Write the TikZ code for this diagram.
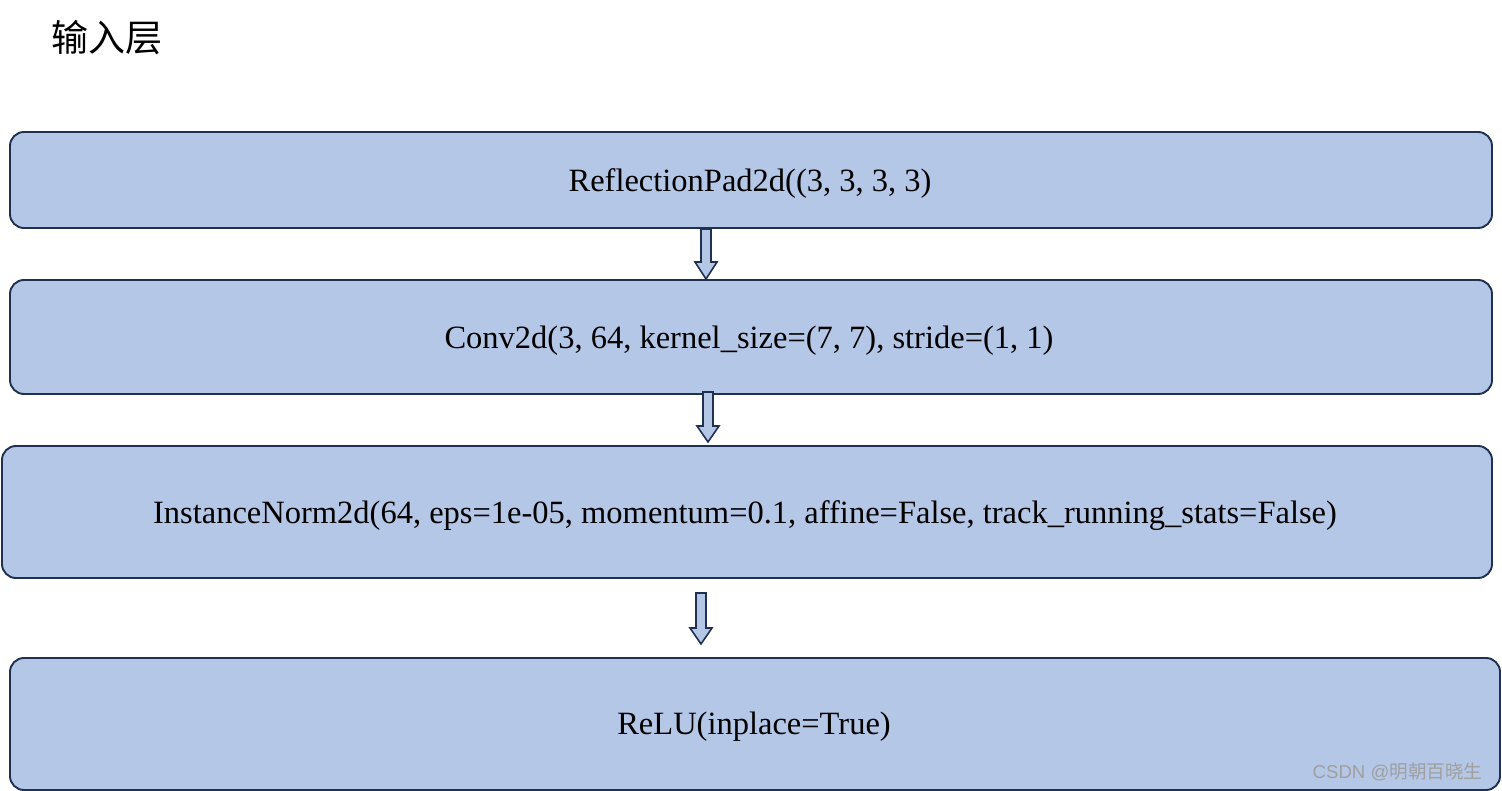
\documentclass[tikz,border=0pt]{standalone}
\usepackage{fontspec}
\setmainfont{Liberation Serif}
\newfontfamily\cjk{Noto Sans CJK SC}
\newfontfamily\wmfont{Liberation Sans}
\definecolor{boxfill}{HTML}{B4C7E7}
\definecolor{boxline}{HTML}{1F3050}
\begin{document}
\begin{tikzpicture}[x=1pt,y=-1pt,
  layerbox/.style={draw=boxline,line width=1.9pt,fill=boxfill,rounded corners=14pt},
  blockarrow/.style={draw=boxline,line width=1.6pt,fill=boxfill,line join=miter},
  lbl/.style={font=\fontsize{32.5}{36}\selectfont,text=black}]
\useasboundingbox (0,0) rectangle (1502,791);
\fill[white] (0,0) rectangle (1502,791);
\node[anchor=west,font=\cjk\fontsize{37}{40}\selectfont] (title) at (48,38) {输入层};
\draw[layerbox] (10,132) rectangle (1492,228);
\node[lbl] (b1) at (750,184) {ReflectionPad2d((3, 3, 3, 3)};
\draw[layerbox] (10,280) rectangle (1492,394);
\node[lbl] (b2) at (749,341) {Conv2d(3, 64, kernel\_size=(7, 7), stride=(1, 1)};
\draw[layerbox] (2,446) rectangle (1492,578);
\node[lbl] (b3) at (745,516) {InstanceNorm2d(64, eps=1e-05, momentum=0.1, affine=False, track\_running\_stats=False)};
\draw[layerbox] (10,658) rectangle (1500,790);
\node[lbl] (b4) at (754,727) {ReLU(inplace=True)};
% block arrows
\draw[blockarrow] (701,229) -- (711,229) -- (711,262) -- (717,262) -- (706,279) -- (695,262) -- (701,262) -- cycle;
\draw[blockarrow] (703,392) -- (713,392) -- (713,426) -- (719,426) -- (708,442) -- (697,426) -- (703,426) -- cycle;
\draw[blockarrow] (696,593) -- (706,593) -- (706,628) -- (712,628) -- (701,644) -- (690,628) -- (696,628) -- cycle;
\node[anchor=east,text=gray!75,font=\wmfont\fontsize{18.6}{21}\selectfont] (wm) at (1486,772) {CSDN @{\cjk 明朝百晓生}};
\end{tikzpicture}
\end{document}
